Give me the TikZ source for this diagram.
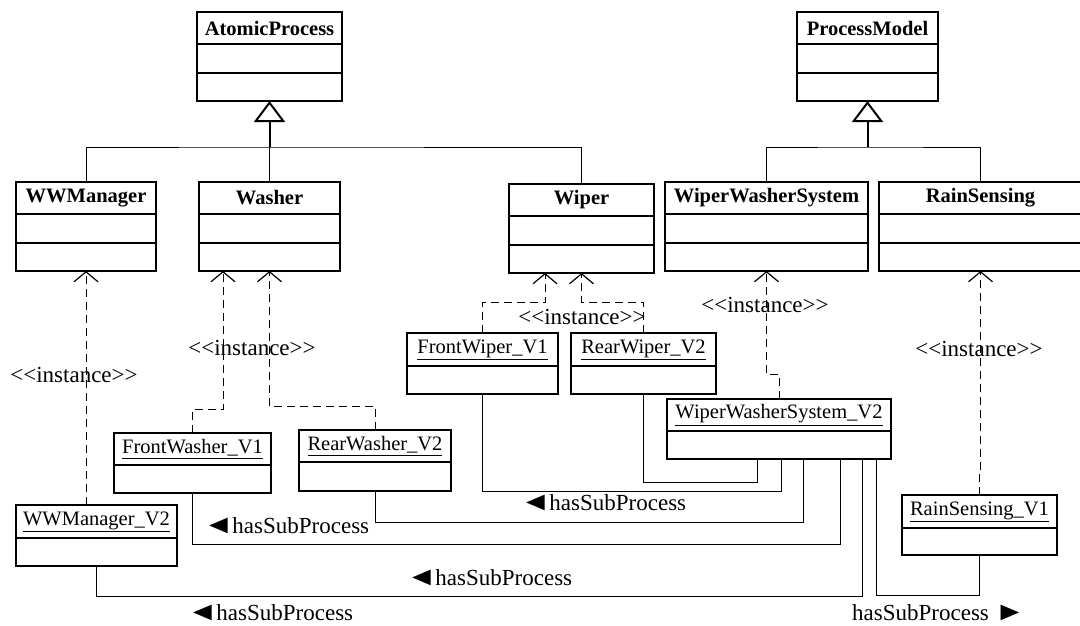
\documentclass[tikz,border=0pt]{standalone}
\usepackage{fontspec}
\newfontfamily\umlfont{Liberation Serif}
\usetikzlibrary{arrows.meta,fit,calc}

% class box: name, x1, y1, x2, y2, divider 1, divider 2, title
\newcommand\classbox[8]{%
  \node[boxframe, fit={(#2,#3)(#4,#5)}] (#1) {};
  \draw[boxline] (#2,#6) -- (#4,#6);
  \draw[boxline] (#2,#7) -- (#4,#7);
  \node[classtitle] (#1-t) at ({(#2+#4)/2},{(#3+#6)/2}) {#8};
}
% object box: name, x1, y1, x2, y2, divider, title
\newcommand\objbox[7]{%
  \node[boxframe, fit={(#2,#3)(#4,#5)}] (#1) {};
  \draw[boxline] (#2,#6) -- (#4,#6);
  \node[objtitle] (#1-t) at ({(#2+#4)/2},{(#3+#6)/2}) {\underline{#7}};
}
% direction marks for the association labels
\newcommand\dirleft{\scalebox{1.35}[1.15]{◄}\kern-1.5pt}
\newcommand\dirright{\scalebox{1.35}[1.15]{►}}

\tikzset{
  boxframe/.style={draw, line width=1.8pt, inner sep=0pt, outer sep=0pt},
  boxline/.style={line width=1.8pt},
  classtitle/.style={font=\umlfont\fontsize{20.5}{24}\selectfont\bfseries, inner sep=0pt},
  objtitle/.style={font=\umlfont\fontsize{20.5}{24}\selectfont, inner sep=0pt},
  lbl/.style={font=\umlfont\fontsize{23}{27}\selectfont, inner sep=0pt},
  genline/.style={line width=1pt},
  gentip/.style={line width=2pt, -{Triangle[open, length=21pt, width=31pt, fill=white]}},
  inst/.style={line width=1pt, dash pattern=on 8pt off 5pt,
    -{Straight Barb[length=10pt, width=24pt, line width=1.2pt]}},
  sub/.style={line width=1pt},
}

\begin{document}
\begin{tikzpicture}[x=1pt, y=-1pt]
\useasboundingbox (0,0) rectangle (1080,626);

% abstract classes
\classbox{atomic}{197}{12}{342}{101}{44}{73}{AtomicProcess}
\classbox{pm}{797}{12}{938}{101}{44}{73}{ProcessModel}

% concrete classes
\classbox{wwm}{16}{182}{156}{271}{214}{243}{WWManager}
\classbox{washer}{199}{182}{340}{271}{214}{243}{Washer}
\classbox{wiper}{509}{184}{654}{273}{216}{245}{Wiper}
\classbox{wws}{665}{182}{868}{271}{214}{243}{WiperWasherSystem}
\classbox{rs}{879}{182}{1082}{271}{214}{243}{RainSensing}

% instances
\objbox{fwp}{407}{333}{558}{394}{366}{FrontWiper\_V1}
\objbox{rwp}{571}{333}{716}{394}{366}{RearWiper\_V2}
\objbox{fw}{114}{433}{271}{493}{465}{FrontWasher\_V1}
\objbox{rw}{299}{430}{451}{491}{462}{RearWasher\_V2}
\objbox{wwsv2}{667}{399}{891}{459}{431}{WiperWasherSystem\_V2}
\objbox{wwmv2}{16}{505}{177}{566}{538}{WWManager\_V2}
\objbox{rsv1}{902}{495}{1057}{555}{528}{RainSensing\_V1}

% generalisation to AtomicProcess
\coordinate (ajoin) at (atomic.south |- 0,147);
\draw[genline] (wwm.north) |- (ajoin) -| (wiper.north);
\draw[genline] (washer.north) -- (ajoin);
\draw[gentip] (ajoin) -- (atomic.south);

% generalisation to ProcessModel
\coordinate (pjoin) at (pm.south |- 0,147);
\draw[genline] (wws.north) |- (pjoin) -| (rs.north);
\draw[gentip] (pjoin) -- (pm.south);

% instance-of dependencies
\draw[inst] (wwm.south |- wwmv2.north) -- (wwm.south);
\draw[inst] (fw.north) -- ++(0,-24) -| (washer.south -| 223,0);
\draw[inst] (rw.north) -- ++(0,-24) -| (washer.south);
\draw[inst] (fwp.north) -- ++(0,-31) -| (wiper.south -| 545,0);
\draw[inst] (rwp.north) -- ++(0,-31) -| (wiper.south);
\draw[inst] (wwsv2.north) -- ++(0,-25) -| (wws.south);
\draw[inst] (rsv1.north) -- ++(0,-23) -| (rs.south);

\node[lbl] (i1) at (74,375) {<<instance>>};
\node[lbl] (i2) at (252,348) {<<instance>>};
\node[lbl] (i3) at (582,317) {<<instance>>};
\node[lbl] (i4) at (765,305) {<<instance>>};
\node[lbl] (i5) at (979,349) {<<instance>>};

% sub-process links from the system instance
\draw[sub] (wwsv2.south -| 757,0) -- (757,482) -| (rwp.south);
\draw[sub] (wwsv2.south -| 781,0) -- (781,491) -| (fwp.south);
\draw[sub] (wwsv2.south -| 803,0) -- (803,522) -| (rw.south);
\draw[sub] (wwsv2.south -| 840,0) -- (840,544) -| (fw.south);
\draw[sub] (wwsv2.south -| 862,0) -- (862,596) -| (wwmv2.south);
\draw[sub] (wwsv2.south -| 876,0) -- (876,595) -| (rsv1.south);

\node[lbl, anchor=west] (h1) at (520,503) {\dirleft hasSubProcess};
\node[lbl, anchor=west] (h2) at (203,526) {\dirleft hasSubProcess};
\node[lbl, anchor=west] (h3) at (406,578) {\dirleft hasSubProcess};
\node[lbl, anchor=west] (h4) at (187,613) {\dirleft hasSubProcess};
\node[lbl, anchor=west] (h5) at (852,613) {hasSubProcess \dirright};
\end{tikzpicture}
\end{document}
